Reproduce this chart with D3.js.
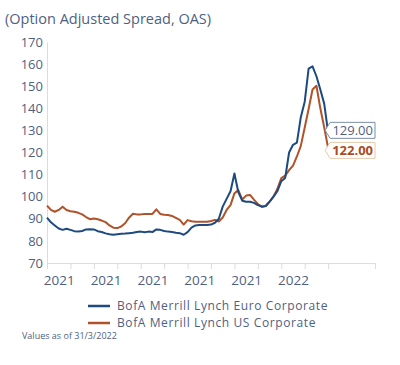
<!DOCTYPE html>
<html>
<head>
<meta charset="utf-8">
<script src="https://cdn.jsdelivr.net/npm/d3@7"></script>
<style>
  body { margin: 0; background: #fff; }
  svg { display: block; font-family: "Open Sans", sans-serif; }
</style>
</head>
<body>
<svg class="chart" width="400" height="365"></svg>
<script>
// Option adjusted spread, sampled at even steps along the axis (bp)
const euroOAS = [
  90.5, 88.4, 87, 85.6, 85, 85.5, 85, 84.4, 84.3, 84.5,
  85.2, 85.3, 85.2, 84.4, 84, 83.4, 83, 82.8, 83, 83.2,
  83.3, 83.5, 83.7, 84, 84.2, 83.9, 84.2, 84, 85.2, 85,
  84.5, 84.2, 84, 83.7, 83.5, 82.8, 84, 86, 87, 87.2,
  87.2, 87.2, 87.4, 88.2, 90, 95.5, 99, 102.5, 110.5, 102,
  98.2, 97.7, 97.7, 97.2, 96.2, 95.5, 95.8, 97.8, 100, 102.5,
  107, 108.5, 120, 123.5, 124.5, 136, 143, 158, 159, 154.5,
  148.5, 142, 129
];
const usOAS = [
  96, 94, 93.2, 94, 95.5, 94, 93.4, 93.2, 92.7, 92,
  90.8, 89.8, 90.1, 89.8, 89.2, 88.5, 87, 86, 85.8, 86.5,
  88, 90.5, 92.3, 92, 92, 92.2, 92.2, 92.2, 94.3, 92.2,
  91.8, 91.7, 91.3, 90.4, 89.5, 87.4, 89.4, 88.9, 88.7, 88.7,
  88.7, 88.7, 89, 89.5, 88.8, 90.6, 94, 96.2, 101.5, 103,
  98.7, 100.5, 100.8, 98.7, 96.7, 95.5, 95.8, 97.7, 100, 103.6,
  108.4, 109.5, 112, 114.1, 118.2, 123, 131.3, 139.7, 148.5, 150.2,
  140, 131.3, 122
];
const seriesNames = ["BofA Merrill Lynch Euro Corporate", "BofA Merrill Lynch US Corporate"];
const seriesColors = ["#1d4a80", "#b0532a"];
const yTicks = [70, 80, 90, 100, 110, 120, 130, 140, 150, 160, 170];
const xTickLabels = ["2021", "2021", "2021", "2021", "2021", "2022"];
const stepsPerTick = 6;
const slots = 84;

const svg = d3.select(".chart");
const margin = { left: 47, right: 25, top: 42, bottom: 102 };
const width = 400, height = 365;

const x = d3.scaleLinear().domain([0, slots]).range([margin.left, width - margin.right]);
const y = d3.scaleLinear().domain([70, 170]).range([height - margin.bottom, margin.top]);

const textColor = "#4f5f80";
const gridColor = "#dcdcdc";

//title
svg.append("text")
  .attr("x", 5)
  .attr("y", 24)
  .attr("font-size", "14.5px")
  .attr("fill", textColor)
  .text("(Option Adjusted Spread, OAS)");

//y axis: a faint line plus labels, no tick marks
const yAxis = svg.append("g")
  .attr("transform", `translate(${margin.left},0)`)
  .call(d3.axisLeft(y).tickValues(yTicks).tickSize(0).tickPadding(4));
yAxis.select(".domain").attr("stroke", gridColor);
yAxis.selectAll("text")
  .attr("font-size", "13px")
  .attr("font-family", "Open Sans, sans-serif")
  .attr("fill", textColor);

//x axis tick marks, one every stepsPerTick samples
const tickIdx = d3.range(0, euroOAS.length, stepsPerTick);
const xAxis = svg.append("g")
  .attr("transform", `translate(0,${y(70)})`)
  .call(d3.axisBottom(x).tickValues(tickIdx).tickSize(6).tickFormat(""));
xAxis.select(".domain").attr("stroke", gridColor);
xAxis.selectAll(".tick line").attr("stroke", gridColor);

//year labels sit between every other pair of ticks
const labelIdx = xTickLabels.map((d, i) => (i * 2 + 0.5) * stepsPerTick);
const xLabels = svg.append("g")
  .attr("transform", `translate(0,${y(70)})`)
  .call(d3.axisBottom(x).tickValues(labelIdx).tickSize(0).tickPadding(12)
    .tickFormat((d, i) => xTickLabels[i]));
xLabels.select(".domain").remove();
xLabels.selectAll("text")
  .attr("font-size", "13.5px")
  .attr("font-family", "Open Sans, sans-serif")
  .attr("fill", textColor);

const line = d3.line()
  .x((d, i) => x(i))
  .y(d => y(d));

// draw US first so the euro line sits on top where they overlap
[usOAS, euroOAS].forEach((values, k) => {
  svg.append("path")
    .datum(values)
    .attr("fill", "none")
    .attr("stroke", seriesColors[1 - k])
    .attr("stroke-width", 2)
    .attr("stroke-linejoin", "round")
    .attr("d", line);
});

//end value boxes with a pointer on the left side
const lastIdx = euroOAS.length - 1;
const endLabels = [
  { value: euroOAS[lastIdx], color: textColor, border: "#7d8cab", weight: "normal" },
  { value: usOAS[lastIdx], color: "#a94c22", border: "#e6c7a6", weight: "bold" }
];
endLabels.forEach(d => { d.cy = y(d.value); });
// push the two boxes apart if they collide
const gap = 20;
if (Math.abs(endLabels[0].cy - endLabels[1].cy) < gap) {
  const mid = (endLabels[0].cy + endLabels[1].cy) / 2;
  const dir = endLabels[0].cy <= endLabels[1].cy ? 1 : -1;
  endLabels[0].cy = mid - dir * gap / 2;
  endLabels[1].cy = mid + dir * gap / 2;
}
const tipX = x(lastIdx) - 3, boxL = tipX + 5, boxR = width - margin.right, boxH = 16;
const endGroup = svg.selectAll(".end-label")
  .data(endLabels)
  .enter()
  .append("g")
  .attr("class", "end-label");
endGroup.append("path")
  .attr("d", d => {
    const t = d.cy - boxH / 2, b = d.cy + boxH / 2;
    return `M${tipX},${d.cy}L${boxL},${t}H${boxR}V${b}H${boxL}Z`;
  })
  .attr("fill", "#fff")
  .attr("stroke", d => d.border)
  .attr("stroke-width", 1);
endGroup.append("text")
  .attr("x", boxR - 2)
  .attr("y", d => d.cy)
  .attr("dy", "0.36em")
  .attr("text-anchor", "end")
  .attr("font-size", "13px")
  .attr("font-weight", d => d.weight)
  .attr("fill", d => d.color)
  .text(d => d.value.toFixed(2));

//legend
const legend = svg.selectAll(".legend")
  .data(seriesNames)
  .enter()
  .append("g")
  .attr("class", "legend")
  .attr("transform", (d, i) => `translate(88,${306 + i * 17})`);
legend.append("line")
  .attr("x1", 0)
  .attr("x2", 22)
  .attr("stroke", (d, i) => seriesColors[i])
  .attr("stroke-width", 2.5);
legend.append("text")
  .attr("x", 29)
  .attr("dy", "0.35em")
  .attr("font-size", "12px")
  .attr("letter-spacing", "0.6px")
  .attr("fill", textColor)
  .text(d => d);

svg.append("text")
  .attr("x", 22)
  .attr("y", 339)
  .attr("font-size", "9px")
  .attr("fill", textColor)
  .text("Values as of 31/3/2022");
</script>
</body>
</html>
